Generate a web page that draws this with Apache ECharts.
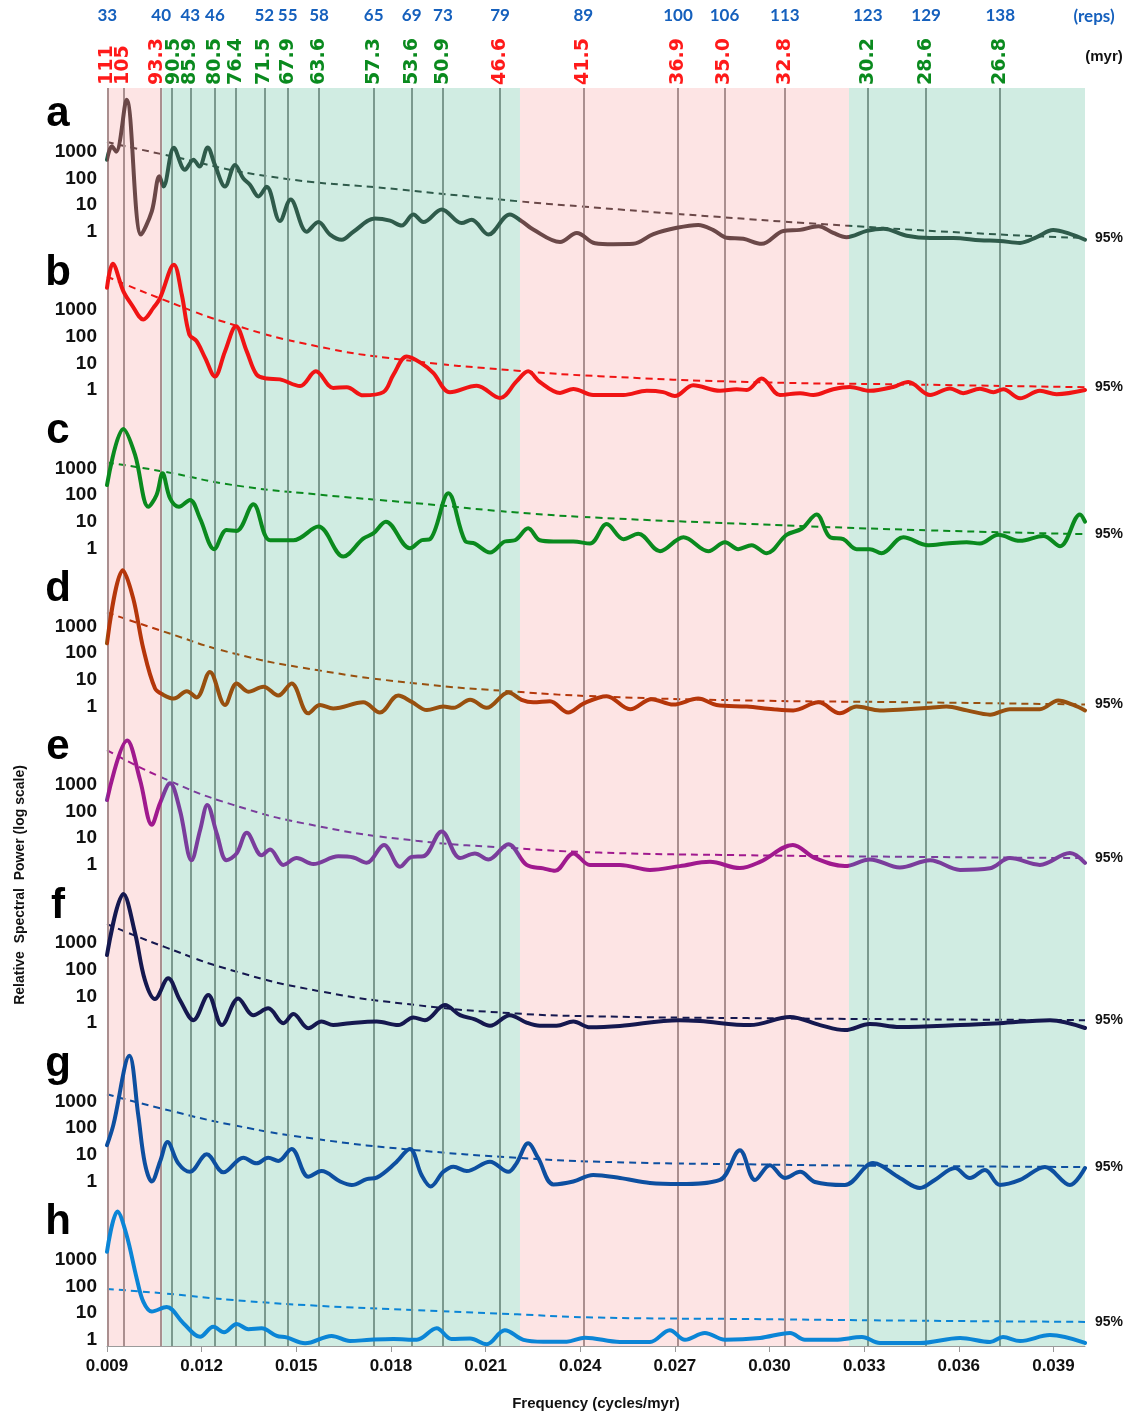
<!DOCTYPE html>
<html>
<head>
<meta charset="utf-8">
<title>Relative spectral power</title>
<script src="https://cdn.jsdelivr.net/npm/echarts@6/dist/echarts.min.js"></script>
<style>
  html, body { margin: 0; padding: 0; background: #fff; }
  #chart { width: 1131px; height: 1416px; }
</style>
</head>
<body>
<div id="chart"></div>
<script>
// ---- values ----
const freqTicks = [0.009, 0.012, 0.015, 0.018, 0.021, 0.024, 0.027, 0.030, 0.033, 0.036, 0.039];
const periods = ['111', '105', '93.3', '90.5', '85.9', '80.5', '76.4', '71.5', '67.9', '63.6', '57.3',
  '53.6', '50.9', '46.6', '41.5', '36.9', '35.0', '32.8', '30.2', '28.6', '26.8'];
const redPeriods = ['111', '105', '93.3', '46.6', '41.5', '36.9', '35.0', '32.8'];
const reps = ['33', '40', '43', '46', '52', '55', '58', '65', '69', '73', '79', '89', '100', '106', '113', '123', '129', '138'];
const repPeriods = ['111', '93.3', '85.9', '80.5', '71.5', '67.9', '63.6', '57.3', '53.6', '50.9', '46.6',
  '41.5', '36.9', '35.0', '32.8', '30.2', '28.6', '26.8'];
const bandEdges = [0.009, 0.01075, 0.02209, 0.03252, 0.040];
const bandKinds = ['pink', 'green', 'pink', 'green'];
const panelLetters = ['a', 'b', 'c', 'd', 'e', 'f', 'g', 'h'];

// [frequency (cycles/myr), relative power]
const powerA = [[0.009, 500], [0.00915, 1600], [0.00929, 1000], [0.00962, 89000], [0.01008, 0.78], [0.01042, 5.8],
  [0.01066, 120], [0.01079, 50], [0.01112, 1400], [0.01147, 210], [0.01174, 500], [0.01193, 280], [0.01219, 1450],
  [0.01242, 320], [0.01274, 50], [0.01306, 320], [0.01332, 100], [0.01353, 58], [0.0138, 21], [0.01406, 48],
  [0.01448, 2.5], [0.01482, 16], [0.01533, 1.0], [0.0157, 2.3], [0.01607, 0.78], [0.01644, 0.5], [0.01681, 1.0],
  [0.01749, 3.1], [0.01797, 2.6], [0.01834, 1.7], [0.01871, 4.4], [0.01903, 2.3], [0.01961, 6.8], [0.02024, 2.1],
  [0.02056, 2.8], [0.02109, 0.78], [0.02177, 4.4], [0.02214, 2.5], [0.02251, 1.2], [0.02336, 0.41], [0.02389, 0.9],
  [0.02447, 0.37], [0.02505, 0.34], [0.02568, 0.35], [0.02632, 0.81], [0.02706, 1.4], [0.02774, 1.8], [0.02822, 1.15],
  [0.02864, 0.59], [0.02917, 0.54], [0.02975, 0.35], [0.03044, 1.07], [0.03097, 1.17], [0.03155, 1.6], [0.03202, 0.9],
  [0.03244, 0.62], [0.03308, 1.07], [0.03361, 1.3], [0.03435, 0.71], [0.03509, 0.58], [0.03583, 0.58], [0.03667, 0.48],
  [0.0373, 0.45], [0.03794, 0.38], [0.03847, 0.63], [0.03899, 1.15], [0.03952, 0.83], [0.04, 0.5]];
const powerB = [[0.009, 6800], [0.00918, 54000], [0.00952, 5000], [0.00978, 1600], [0.01015, 440], [0.01047, 1200],
  [0.01068, 2800], [0.01112, 50000], [0.01137, 3800], [0.01161, 120], [0.01184, 68], [0.01211, 16], [0.01242, 3.2],
  [0.01274, 28], [0.01309, 245], [0.01343, 28], [0.01374, 3.8], [0.01406, 2.7], [0.01448, 2.5], [0.01512, 1.4],
  [0.01562, 5], [0.01617, 1.2], [0.0166, 1.26], [0.01712, 0.63], [0.01776, 0.83], [0.01808, 3.8], [0.0185, 18],
  [0.01897, 10], [0.01934, 4.4], [0.01987, 0.83], [0.02072, 1.45], [0.02146, 0.5], [0.02198, 2.1], [0.02235, 5],
  [0.02272, 2], [0.02336, 0.78], [0.02378, 1.1], [0.02441, 0.65], [0.02537, 0.65], [0.02611, 0.93], [0.02663, 0.83],
  [0.027, 0.59], [0.02758, 1.5], [0.02843, 0.93], [0.02896, 1.07], [0.02928, 1.0], [0.02975, 2.7], [0.03033, 0.65],
  [0.03097, 0.76], [0.03139, 0.65], [0.03202, 1.07], [0.03255, 1.3], [0.03318, 0.93], [0.03392, 1.3], [0.0344, 2.0],
  [0.03509, 0.65], [0.03572, 1.15], [0.03614, 0.76], [0.03667, 1.12], [0.0371, 0.83], [0.03741, 1.07], [0.03794, 0.49],
  [0.03857, 0.93], [0.0391, 0.7], [0.04, 1.0]];
const powerC = [[0.009, 235], [0.00952, 30000], [0.00989, 3200], [0.01031, 36], [0.01057, 100], [0.01076, 650],
  [0.011, 74], [0.01128, 36], [0.01163, 65], [0.01195, 13], [0.0124, 0.93], [0.01279, 4.9], [0.01311, 4.5],
  [0.01364, 45], [0.01417, 2], [0.01491, 2], [0.0157, 6.5], [0.01649, 0.49], [0.01712, 2.3], [0.01744, 3.6],
  [0.01784, 10], [0.0186, 1], [0.01897, 2], [0.01924, 2.2], [0.01982, 115], [0.02035, 1.9], [0.02066, 1.5],
  [0.02114, 0.7], [0.02161, 1.8], [0.02193, 2], [0.02235, 5.6], [0.02272, 2], [0.02315, 1.8], [0.02378, 1.8],
  [0.02431, 1.5], [0.02484, 8.1], [0.02537, 2.2], [0.02584, 3.5], [0.02653, 0.78], [0.02727, 2.6], [0.02806, 0.78],
  [0.02859, 1.7], [0.02901, 0.93], [0.02943, 1.3], [0.02991, 0.65], [0.03054, 3.2], [0.03102, 5.4], [0.03149, 18.6],
  [0.03192, 2.6], [0.03234, 2.2], [0.03276, 0.93], [0.03318, 0.93], [0.03355, 0.65], [0.03424, 2.6], [0.03503, 1.3],
  [0.03561, 1.5], [0.03625, 1.7], [0.03667, 1.5], [0.03725, 3.2], [0.03794, 1.9], [0.03868, 2.9], [0.03921, 1.2],
  [0.03984, 18.6], [0.04, 10]];
const powerD = [[0.009, 235], [0.0095, 130000], [0.00983, 11500], [0.01015, 150], [0.01052, 4.9], [0.01079, 2.75],
  [0.01112, 2], [0.01153, 3.8], [0.01184, 2.2], [0.01226, 20], [0.01274, 1.15], [0.01311, 7.4], [0.01348, 3.6],
  [0.01396, 5.6], [0.01443, 2.6], [0.01485, 7.4], [0.01538, 0.56], [0.01575, 1.15], [0.01617, 0.85], [0.01712, 1.45],
  [0.01765, 0.6], [0.01823, 2.6], [0.01866, 1.5], [0.01914, 0.74], [0.01966, 1], [0.01998, 0.9], [0.02051, 1.8],
  [0.02103, 0.9], [0.02172, 3.4], [0.02214, 1.8], [0.02251, 1.45], [0.02304, 1.6], [0.02362, 0.6], [0.0241, 1.3],
  [0.02484, 2.45], [0.02558, 0.8], [0.02626, 1.9], [0.02695, 1.2], [0.02774, 2], [0.02832, 1.15], [0.02928, 1],
  [0.03012, 0.8], [0.03075, 0.72], [0.03155, 1.45], [0.03223, 0.56], [0.03276, 1], [0.0335, 0.72], [0.03435, 0.8],
  [0.03509, 0.9], [0.03561, 1], [0.03625, 0.72], [0.03699, 0.5], [0.03762, 0.8], [0.03857, 0.8], [0.03915, 1.7],
  [0.03963, 1.15], [0.04, 0.72]];
const powerE = [[0.009, 270], [0.00964, 46000], [0.01005, 1500], [0.01042, 32], [0.01068, 205], [0.011, 1150],
  [0.01131, 115], [0.01168, 1.5], [0.01195, 20], [0.01218, 178], [0.01248, 15], [0.01279, 1.5], [0.01311, 2.7],
  [0.01343, 16], [0.0139, 2.3], [0.01417, 3.8], [0.01459, 1], [0.01501, 1.8], [0.01554, 1.07], [0.01633, 2.1],
  [0.01681, 1.9], [0.01723, 1.2], [0.01778, 5.6], [0.01829, 0.85], [0.01866, 2], [0.01903, 2.1], [0.01961, 18],
  [0.02019, 1.8], [0.02066, 2.7], [0.02109, 1.6], [0.02172, 6], [0.0223, 1], [0.02283, 0.74], [0.0232, 0.6],
  [0.02378, 2.7], [0.02431, 1], [0.02526, 1.0], [0.02621, 0.65], [0.02716, 0.9], [0.02811, 1.3], [0.02906, 0.76],
  [0.0297, 1.3], [0.03074, 5.6], [0.03144, 1.8], [0.03239, 0.9], [0.03318, 1.6], [0.03413, 0.8], [0.03509, 1.5],
  [0.03604, 0.65], [0.03699, 0.75], [0.03762, 1.8], [0.03857, 1.0], [0.03952, 2.8], [0.04, 1.2]];
const powerF = [[0.009, 360], [0.00952, 70000], [0.00989, 2350], [0.0102, 42], [0.01052, 8], [0.01094, 48],
  [0.01131, 7.4], [0.01174, 1.3], [0.01221, 11.5], [0.01264, 0.85], [0.01316, 8.5], [0.01364, 2], [0.01411, 3.6],
  [0.01459, 1], [0.01491, 2.2], [0.01538, 0.65], [0.0158, 1.15], [0.01617, 0.85], [0.0167, 1], [0.01755, 1.15],
  [0.01823, 0.85], [0.01871, 1.65], [0.01908, 1.3], [0.01971, 4.8], [0.02019, 2], [0.02066, 1.4], [0.02114, 0.8],
  [0.02177, 2], [0.0223, 1.05], [0.02272, 0.8], [0.02325, 0.8], [0.02378, 1.15], [0.02431, 0.7], [0.02526, 0.79],
  [0.02713, 1.3], [0.0278, 1.2], [0.02938, 0.85], [0.03065, 1.7], [0.0316, 0.85], [0.03239, 0.55], [0.03318, 0.93],
  [0.03413, 0.72], [0.03604, 0.85], [0.0373, 1.0], [0.03889, 1.3], [0.04, 0.66]];
const powerG = [[0.009, 23], [0.0092, 130], [0.00971, 52000], [0.00999, 310], [0.0102, 4.8], [0.01042, 1],
  [0.01068, 5.5], [0.01092, 30], [0.01126, 4.8], [0.01163, 2.3], [0.01216, 10.5], [0.01269, 2.2], [0.01332, 7.8],
  [0.01374, 4.8], [0.01411, 7.8], [0.01443, 5.9], [0.01485, 16.6], [0.01538, 1.5], [0.0158, 2.45], [0.01639, 1],
  [0.01676, 0.74], [0.01723, 1.23], [0.01755, 1.4], [0.01813, 4.8], [0.0186, 16.6], [0.01897, 1.75], [0.01926, 0.65],
  [0.01966, 2.3], [0.01998, 3.6], [0.0204, 2.45], [0.02114, 5.5], [0.02172, 2.3], [0.02198, 4.8], [0.02235, 27],
  [0.02267, 7.4], [0.02315, 0.78], [0.02378, 1], [0.02441, 1.75], [0.02526, 1.35], [0.02621, 0.88], [0.02716, 0.8],
  [0.02843, 1.14], [0.02906, 15], [0.02954, 1.14], [0.03001, 4.1], [0.03049, 1.35], [0.03097, 2.3], [0.03144, 0.96],
  [0.03239, 0.74], [0.03328, 4.9], [0.03413, 1.35], [0.03477, 0.57], [0.03524, 1.14], [0.03588, 3.2], [0.03635, 1.35],
  [0.03683, 2.7], [0.0373, 0.74], [0.03794, 1.14], [0.03873, 3.5], [0.03952, 0.74], [0.04, 3.2]];
const powerH = [[0.009, 2000], [0.00933, 64000], [0.00962, 8500], [0.00994, 205], [0.01015, 27], [0.01042, 11.5],
  [0.01089, 17], [0.01142, 4.2], [0.01195, 1.3], [0.01237, 3.1], [0.01271, 1.9], [0.01311, 3.9], [0.01348, 2.5],
  [0.0139, 2.7], [0.01438, 1.4], [0.01469, 1.23], [0.01528, 0.74], [0.01612, 1.4], [0.0167, 0.9], [0.01734, 1],
  [0.01808, 1.07], [0.01882, 1], [0.01945, 2.7], [0.01992, 1.07], [0.02051, 1.12], [0.02103, 0.68], [0.02161, 2.3],
  [0.0222, 1], [0.02283, 0.85], [0.02357, 0.85], [0.02415, 1.2], [0.02526, 0.83], [0.02621, 0.83], [0.02684, 2.3],
  [0.02732, 1], [0.02795, 1.8], [0.02859, 1], [0.0297, 1.17], [0.03065, 1.8], [0.03112, 1], [0.03207, 1],
  [0.03293, 1.27], [0.0335, 0.76], [0.03477, 0.76], [0.03604, 1.17], [0.03699, 0.83], [0.0374, 1.27], [0.03794, 0.9],
  [0.03889, 1.5], [0.04, 0.76]];

// 95% confidence levels (dashed)
const limitA = [[0.009, 2300], [0.0108, 780], [0.0141, 120], [0.0183, 38], [0.022, 14], [0.024, 8.9], [0.0282, 3.7],
  [0.0324, 1.7], [0.0367, 0.85], [0.04, 0.58]];
const limitB = [[0.009, 18000], [0.0108, 2400], [0.013, 280], [0.01565, 44], [0.0183, 14], [0.022, 5.3], [0.0246, 3.3],
  [0.0293, 2], [0.0346, 1.6], [0.04, 1.27]];
const limitC = [[0.009, 1660], [0.0108, 750], [0.013, 235], [0.01565, 105], [0.0188, 49], [0.022, 22], [0.0246, 14],
  [0.0293, 8.2], [0.0346, 4.9], [0.04, 3.4]];
const limitD = [[0.009, 3400], [0.0108, 650], [0.013, 100], [0.01565, 23.5], [0.0188, 7.4], [0.022, 3.6], [0.0246, 2.4],
  [0.0293, 1.7], [0.0346, 1.45], [0.04, 1.2]];
const limitE = [[0.009, 20000], [0.0108, 1750], [0.013, 178], [0.01565, 29], [0.0188, 8.1], [0.022, 4.2], [0.0246, 2.9],
  [0.0293, 2.3], [0.0346, 2.0], [0.04, 1.8]];
const limitF = [[0.009, 5200], [0.0108, 740], [0.013, 93], [0.01565, 16.6], [0.0188, 4.8], [0.022, 2.3], [0.0246, 1.8],
  [0.0293, 1.55], [0.0346, 1.4], [0.04, 1.3]];
const limitG = [[0.009, 1860], [0.0108, 520], [0.013, 130], [0.01565, 39], [0.0188, 15], [0.022, 7.8], [0.0246, 5.5],
  [0.0293, 4.4], [0.0346, 3.8], [0.04, 3.5]];
const limitH = [[0.009, 80], [0.0108, 55], [0.013, 31], [0.01565, 19], [0.0188, 13], [0.022, 9], [0.0246, 6.8],
  [0.0293, 6], [0.0346, 5.2], [0.04, 4.7]];

const powers = [powerA, powerB, powerC, powerD, powerE, powerF, powerG, powerH];
const limits = [limitA, limitB, limitC, limitD, limitE, limitF, limitG, limitH];

// ---- look ----
const lineColors = [
  { pink: '#6b4848', green: '#2f5b4b' },
  { pink: '#f01414', green: '#f01414' },
  { pink: '#0a8a1e', green: '#0a8a1e' },
  { pink: '#b5360a', green: '#98500f' },
  { pink: '#a0198e', green: '#7a3d9c' },
  { pink: '#15184f', green: '#15184f' },
  { pink: '#0d4fa0', green: '#0d4fa0' },
  { pink: '#0b85d6', green: '#0b85d6' }
];
const bandFill = { pink: '#fde4e4', green: '#d0ece2' };
const gridLineColor = { pink: '#aa8f8f', green: '#7b998e' };
// crowded period labels are pushed sideways a little (px, + = right)
const labelNudge = { '93.3': -4, '90.5': 2 };
const FONT = '"Liberation Sans", Arial, sans-serif';

const plotLeft = 107, plotRight = 1085, plotTop = 88, plotBottom = 1348;
const unitY0 = 231.7;      // pixel row of power = 1 in panel a
const panelStep = 158.3;
const decadePx = 26.67;
const decBelow = 0.3;
const decAbove = 150.3 / decadePx;
const fMin = 0.009, fMax = 0.04;

function bandOf(f) {
  for (let i = 0; i < bandKinds.length; i++) {
    if (f < bandEdges[i + 1]) return bandKinds[i];
  }
  return bandKinds[bandKinds.length - 1];
}
function nearest(list, v) {
  let best = 0;
  list.forEach((p, i) => {
    if (Math.abs(1 / Number(p) - v) < Math.abs(1 / Number(list[best]) - v)) best = i;
  });
  return best;
}

// rich styles for the rotated period labels
const periodRich = {};
periods.forEach((p, i) => {
  const n = labelNudge[p] || 0;
  periodRich['p' + i] = {
    color: redPeriods.includes(p) ? '#ff1a1a' : '#0a8a1e',
    fontSize: 19, fontWeight: 'bold', fontFamily: '"DejaVu Sans"', lineHeight: 15,
    padding: n < 0 ? [0, 0, -2 * n, 0] : [2 * n, 0, 0, 0]
  };
});
// blank end positions keep the first/last period labels clear of the
// automatic min/max label overlap check
const periodStops = [fMin].concat(periods.map(p => 1 / Number(p)), [fMax]);

const grid = [{ left: plotLeft, top: plotTop, width: plotRight - plotLeft, height: plotBottom - plotTop }];
const xAxis = [
  {
    gridIndex: 0, type: 'value', position: 'bottom', min: fMin, max: fMax,
    axisLine: { lineStyle: { color: '#9a9a9a', width: 1 } },
    axisTick: { customValues: freqTicks, length: 6, lineStyle: { color: '#9a9a9a' } },
    axisLabel: {
      customValues: freqTicks, formatter: v => v.toFixed(3), margin: 12,
      fontSize: 17, fontWeight: 'bold', color: '#111', fontFamily: FONT
    },
    splitLine: { show: false },
    name: 'Frequency (cycles/myr)', nameLocation: 'middle', nameGap: 50,
    nameTextStyle: { fontSize: 15, fontWeight: 'bold', color: '#111', fontFamily: FONT }
  },
  {
    gridIndex: 0, type: 'value', position: 'top', min: fMin, max: fMax,
    axisLine: { show: false }, axisTick: { show: false }, splitLine: { show: false },
    axisLabel: {
      customValues: periodStops, rotate: -90, margin: 3, lineHeight: 15,
      formatter: v => {
        const i = nearest(periods, v);
        if (Math.abs(1 / Number(periods[i]) - v) > 1e-9) return '';
        return '{p' + i + '|' + periods[i] + '}';
      },
      rich: periodRich
    }
  },
  {
    gridIndex: 0, type: 'value', position: 'top', offset: 60, min: fMin, max: fMax,
    axisLine: { show: false }, axisTick: { show: false }, splitLine: { show: false },
    axisLabel: {
      customValues: repPeriods.map(p => 1 / Number(p)), margin: 4,
      showMinLabel: true, showMaxLabel: true,
      formatter: v => reps[nearest(repPeriods, v)],
      color: '#1560bd', fontSize: 17, fontWeight: 'bold', fontFamily: 'Lato, ' + FONT
    }
  }
];
const yAxis = [{ gridIndex: 0, type: 'value', min: 0, max: 1, show: false }];

const series = [
  {
    name: 'bands', type: 'line', xAxisIndex: 0, yAxisIndex: 0, data: [], z: 0, silent: true,
    markArea: {
      silent: true,
      data: bandKinds.map((k, i) => [
        { xAxis: bandEdges[i], itemStyle: { color: bandFill[k] } },
        { xAxis: bandEdges[i + 1] }
      ])
    }
  },
  {
    name: 'periods', type: 'line', xAxisIndex: 0, yAxisIndex: 0, data: [], z: 1, silent: true,
    markLine: {
      silent: true, symbol: ['none', 'none'], label: { show: false }, precision: 8,
      data: periods.map(p => ({
        xAxis: 1 / Number(p),
        lineStyle: { color: gridLineColor[bandOf(1 / Number(p))], width: 2, type: 'solid' }
      }))
    }
  }
];
const visualMap = [];
const graphic = [];

powers.forEach((power, k) => {
  const unitY = unitY0 + k * panelStep;
  const gi = k + 1;
  const col = lineColors[k];
  const banded = col.pink !== col.green;
  grid.push({
    left: plotLeft, width: plotRight - plotLeft,
    top: unitY - decAbove * decadePx, height: (decAbove + decBelow) * decadePx
  });
  xAxis.push({ gridIndex: gi, type: 'value', min: fMin, max: fMax, show: false, splitLine: { show: false } });
  yAxis.push({
    gridIndex: gi, type: 'log', logBase: 10,
    min: Math.pow(10, -decBelow), max: Math.pow(10, decAbove),
    axisLine: { show: false }, axisTick: { show: false }, splitLine: { show: false },
    axisLabel: {
      margin: 10, fontSize: 19, fontWeight: 'bold', color: '#111', fontFamily: FONT,
      showMinLabel: false, showMaxLabel: false,
      formatter: v => {
        const e = Math.log10(v);
        return (Math.abs(e - Math.round(e)) < 1e-6 && e > -0.5 && e < 3.5) ? String(Math.round(v)) : '';
      }
    }
  });
  const first = series.length;
  const solidStyle = { width: 4, cap: 'round', join: 'round' };
  const dashStyle = { width: 2, type: [7, 5] };
  if (!banded) {
    solidStyle.color = col.green;
    dashStyle.color = col.green;
  }
  series.push({
    name: 'power ' + panelLetters[k], type: 'line', xAxisIndex: xAxis.length - 1, yAxisIndex: gi,
    data: power, smooth: 0.35, showSymbol: false, clip: false, z: 5, silent: true,
    lineStyle: solidStyle
  });
  series.push({
    name: '95% ' + panelLetters[k], type: 'line', xAxisIndex: xAxis.length - 1, yAxisIndex: gi,
    data: limits[k], smooth: true, showSymbol: false, clip: false, z: 4, silent: true,
    lineStyle: dashStyle,
    endLabel: {
      show: true, formatter: '95%', distance: 10, color: '#111',
      fontSize: 14, fontWeight: 'bold', fontFamily: FONT
    }
  });
  if (banded) {
    visualMap.push({
      type: 'piecewise', show: false, dimension: 0, seriesIndex: [first, first + 1],
      pieces: bandKinds.map((b, i) => ({ gte: bandEdges[i], lt: bandEdges[i + 1], color: col[b] })),
      outOfRange: { color: col.green }
    });
  }
  graphic.push({
    type: 'text', x: 58, y: unitY - 117, silent: true,
    style: { text: panelLetters[k], fill: '#000', font: 'bold 42px ' + FONT, align: 'center', verticalAlign: 'middle' }
  });
});

graphic.push(
  {
    type: 'text', x: 1094, y: 17, silent: true,
    style: { text: '(reps)', fill: '#1560bd', font: 'bold 17px Lato, ' + FONT, align: 'center', verticalAlign: 'middle' }
  },
  {
    type: 'text', x: 1104, y: 57, silent: true,
    style: { text: '(myr)', fill: '#111', font: 'bold 15px ' + FONT, align: 'center', verticalAlign: 'middle' }
  },
  {
    type: 'text', x: 20, y: 885, rotation: Math.PI / 2, silent: true,
    style: {
      text: 'Relative  Spectral  Power (log scale)', fill: '#111', font: 'bold 14px ' + FONT,
      align: 'center', verticalAlign: 'middle'
    }
  }
);

const chart = echarts.init(document.getElementById('chart'));
chart.setOption({
  animation: false,
  backgroundColor: '#fff',
  textStyle: { fontFamily: FONT },
  grid, xAxis, yAxis, visualMap, series, graphic
});
</script>
</body>
</html>
